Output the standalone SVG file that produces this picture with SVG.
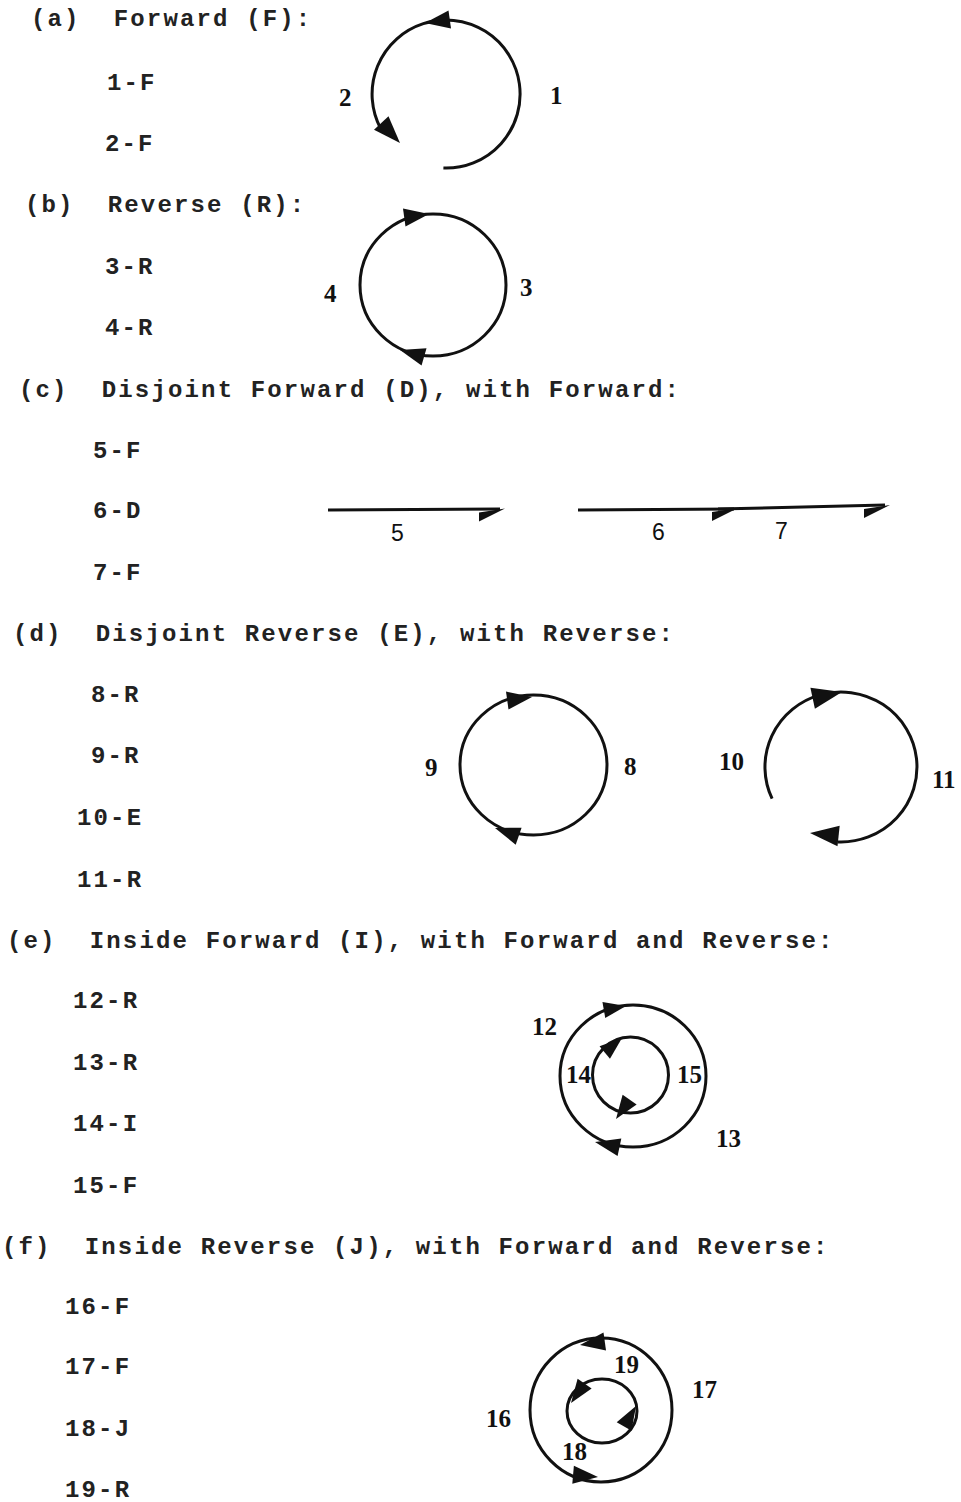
<svg xmlns="http://www.w3.org/2000/svg" xmlns:xlink="http://www.w3.org/1999/xlink" width="961" height="1502" viewBox="0 0 961 1502">
<style>
.t{font-family:"Liberation Mono",monospace;font-size:24px;font-weight:bold;letter-spacing:2.15px;fill:#222}
.n{font-family:"Liberation Serif",serif;font-size:25px;font-weight:bold;fill:#111}
.s{font-family:"Liberation Sans",sans-serif;font-size:23px;fill:#111}
.c{fill:none;stroke:#111;stroke-width:3}
.a{fill:#111}
</style>
<defs>
<path id="ah" d="M0,0 L-25,-9 L-25,9 Z"/>
<path id="barb" d="M0,0 L-26,4 L-26,13 Z"/>
</defs>
<rect width="961" height="1502" fill="#fff"/>

<g id="labels">
<text class="t" x="31" y="26" xml:space="preserve">(a)  Forward (F):</text>
<text class="t" x="107" y="90">1-F</text>
<text class="t" x="105" y="151">2-F</text>
<text class="t" x="25" y="212" xml:space="preserve">(b)  Reverse (R):</text>
<text class="t" x="105" y="274">3-R</text>
<text class="t" x="105" y="335">4-R</text>
<text class="t" x="19" y="397" xml:space="preserve">(c)  Disjoint Forward (D), with Forward:</text>
<text class="t" x="93" y="458">5-F</text>
<text class="t" x="93" y="518">6-D</text>
<text class="t" x="93" y="580">7-F</text>
<text class="t" x="13" y="641" xml:space="preserve">(d)  Disjoint Reverse (E), with Reverse:</text>
<text class="t" x="91" y="702">8-R</text>
<text class="t" x="91" y="763">9-R</text>
<text class="t" x="77" y="825">10-E</text>
<text class="t" x="77" y="887">11-R</text>
<text class="t" x="7" y="948" xml:space="preserve">(e)  Inside Forward (I), with Forward and Reverse:</text>
<text class="t" x="73" y="1008">12-R</text>
<text class="t" x="73" y="1070">13-R</text>
<text class="t" x="73" y="1131">14-I</text>
<text class="t" x="73" y="1193">15-F</text>
<text class="t" x="2" y="1254" xml:space="preserve">(f)  Inside Reverse (J), with Forward and Reverse:</text>
<text class="t" x="65" y="1314">16-F</text>
<text class="t" x="65" y="1374">17-F</text>
<text class="t" x="65" y="1436">18-J</text>
<text class="t" x="65" y="1497">19-R</text>
</g>

<g id="connectors">
<g id="arc-a">
<path class="c" d="M443.4,168 A74,74 0 1 0 380.7,128.7"/>
<use href="#ah" class="a" transform="translate(425,23) rotate(172)"/>
<use href="#ah" class="a" transform="translate(400,143) rotate(47) scale(1.1)"/>
</g>
<g id="arc-b">
<ellipse class="c" cx="433" cy="285" rx="73" ry="71"/>
<use href="#ah" class="a" transform="translate(429,214) rotate(-8)"/>
<use href="#ah" class="a" transform="translate(400,350) rotate(196)"/>
</g>
<g id="lines-c">
<path class="c" d="M328,510 L500,509"/>
<use href="#barb" class="a" transform="translate(505,508.5)"/>
<path class="c" d="M578,510 L734,509"/>
<use href="#barb" class="a" transform="translate(738,508)"/>
<path class="c" d="M718,509 L885,505"/>
<use href="#barb" class="a" transform="translate(890,505)"/>
</g>
<g id="arc-d1">
<ellipse class="c" cx="533.5" cy="765" rx="73.5" ry="70"/>
<use href="#ah" class="a" transform="translate(532,697) rotate(-8)"/>
<use href="#ah" class="a" transform="translate(495,828) rotate(199)"/>
</g>
<g id="arc-d2">
<path class="c" d="M772.1,798.7 A76,75 0 1 1 837.7,841.9"/>
<use href="#ah" class="a" transform="translate(842,692) rotate(-12) scale(1.2)"/>
<use href="#ah" class="a" transform="translate(810,833) rotate(186) scale(1.15)"/>
</g>
<g id="arc-e">
<ellipse class="c" cx="633" cy="1076" rx="73" ry="71"/>
<use href="#ah" class="a" transform="translate(626,1006) rotate(-10) scale(0.9)"/>
<use href="#ah" class="a" transform="translate(595,1142) rotate(192)"/>
<circle class="c" cx="630.5" cy="1075" r="38"/>
<use href="#ah" class="a" transform="translate(622,1038) rotate(-40) scale(0.9)"/>
<use href="#ah" class="a" transform="translate(616,1119) rotate(125) scale(0.95)"/>
</g>
<g id="arc-f">
<ellipse class="c" cx="601" cy="1410" rx="71" ry="72"/>
<use href="#ah" class="a" transform="translate(580,1345) rotate(172)"/>
<use href="#ah" class="a" transform="translate(598,1477) rotate(5)"/>
<ellipse class="c" cx="602" cy="1411" rx="35" ry="32"/>
<use href="#ah" class="a" transform="translate(571,1403) rotate(125) scale(0.95)"/>
<use href="#ah" class="a" transform="translate(636,1406) rotate(-60) scale(0.95)"/>
</g>
</g>

<g id="numbers">
<text class="n" x="550" y="104">1</text>
<text class="n" x="339" y="106">2</text>
<text class="n" x="520" y="296">3</text>
<text class="n" x="324" y="302">4</text>
<text class="s" x="391" y="541">5</text>
<text class="s" x="652" y="540">6</text>
<text class="s" x="775" y="539">7</text>
<text class="n" x="624" y="775">8</text>
<text class="n" x="425" y="776">9</text>
<text class="n" x="719" y="770">10</text>
<text class="n" x="932" y="788">11</text>
<text class="n" x="532" y="1035">12</text>
<text class="n" x="716" y="1147">13</text>
<text class="n" x="566" y="1083">14</text>
<text class="n" x="677" y="1083">15</text>
<text class="n" x="486" y="1427">16</text>
<text class="n" x="692" y="1398">17</text>
<text class="n" x="562" y="1460">18</text>
<text class="n" x="614" y="1373">19</text>
</g>
</svg>
